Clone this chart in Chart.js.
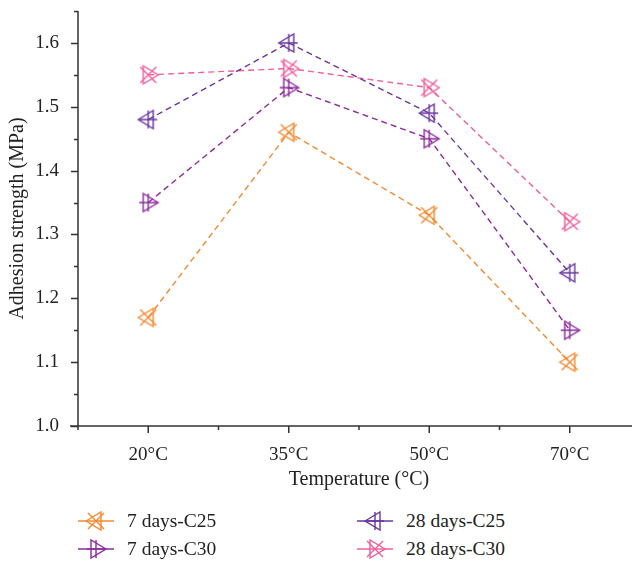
<!DOCTYPE html>
<html>
<head>
<meta charset="utf-8">
<script src="https://cdn.jsdelivr.net/npm/chart.js@4.4.1/dist/chart.umd.min.js"></script>
<style>
  body { margin: 0; background: #fff; overflow: hidden; width: 632px; height: 563px; }
  #wrap { position: relative; width: 640px; height: 495px; }
  #legend { position: absolute; left: 0; top: 508px; width: 632px; height: 55px;
            font-family: "Liberation Serif", "DejaVu Serif", serif; font-size: 19.5px; color: #222; }
  .item { position: absolute; height: 26px; display: flex; align-items: center; }
  .item canvas { margin-right: 9px; }
</style>
</head>
<body>
<div id="wrap"><canvas id="myChart" width="640" height="495"></canvas></div>
<div id="legend"></div>
<script>
// data
const labels = ['20°C', '35°C', '50°C', '70°C'];
const c25_7d = [1.17, 1.46, 1.33, 1.10];
const c30_7d = [1.35, 1.53, 1.45, 1.15];
const c25_28d = [1.48, 1.60, 1.49, 1.24];
const c30_28d = [1.55, 1.56, 1.53, 1.32];
const seriesNames = ['7 days-C25', '7 days-C30', '28 days-C25', '28 days-C30'];
const yTickLabels = ['1.0', '1.1', '1.2', '1.3', '1.4', '1.5', '1.6'];

const colors = ['#f5892f', '#8c2c9c', '#6a369f', '#ef5f9c'];
const fontFam = '"Liberation Serif", "DejaVu Serif", serif';

// marker = cross (plus or x) with a triangle pointing left or right
function drawMarker(g, cx, cy, color, crossType, dir) {
    g.strokeStyle = color;
    g.lineWidth = 1.4;
    g.beginPath();
    if (crossType === 'x') {
        g.moveTo(cx - 8, cy - 8); g.lineTo(cx + 8, cy + 8);
        g.moveTo(cx + 8, cy - 8); g.lineTo(cx - 8, cy + 8);
    } else {
        g.moveTo(cx - 9, cy); g.lineTo(cx + 9, cy);
        g.moveTo(cx, cy - 9); g.lineTo(cx, cy + 9);
    }
    g.stroke();
    g.beginPath();
    if (dir === 'left') {
        g.moveTo(cx - 10, cy); g.lineTo(cx + 5, cy - 9); g.lineTo(cx + 5, cy + 9);
    } else {
        g.moveTo(cx + 10, cy); g.lineTo(cx - 5, cy - 9); g.lineTo(cx - 5, cy + 9);
    }
    g.closePath();
    g.stroke();
}

const markerDefs = [['x', 'left'], ['plus', 'right'], ['plus', 'left'], ['x', 'right']];

function makeMarker(i) {
    const c = document.createElement('canvas');
    c.width = 26; c.height = 26;
    drawMarker(c.getContext('2d'), 13, 13, colors[i], markerDefs[i][0], markerDefs[i][1]);
    return c;
}

const allData = [c25_7d, c30_7d, c25_28d, c30_28d];
const datasets = allData.map(function (d, i) {
    return {
        label: seriesNames[i],
        data: d,
        borderColor: colors[i],
        backgroundColor: colors[i],
        borderWidth: 1.4,
        borderDash: [6, 4],
        pointStyle: makeMarker(i),
        pointRadius: 10,
        fill: false,
        tension: 0
    };
});

// axes + tick marks drawn by hand so major/minor lengths differ
const axisTicks = {
    id: 'axisTicks',
    afterDraw(chart) {
        const g = chart.ctx;
        const xs = chart.scales.x, ys = chart.scales.y;
        const left = chart.chartArea.left, bottom = chart.chartArea.bottom;
        g.save();
        g.strokeStyle = '#333';
        g.lineWidth = 1.5;
        g.beginPath();
        g.moveTo(left, ys.getPixelForValue(1.65)); g.lineTo(left, bottom + 4);
        g.moveTo(left - 8, bottom); g.lineTo(chart.width, bottom);
        for (let k = 0; k <= 13; k++) {
            const v = 1.0 + k * 0.05;
            const py = Math.round(ys.getPixelForValue(v)) + 0.5;
            const len = (k % 2 === 0) ? 7 : 4;
            g.moveTo(left - len, py); g.lineTo(left, py);
        }
        const step = xs.getPixelForValue(1) - xs.getPixelForValue(0);
        for (let i = 0; i < labels.length; i++) {
            const px = xs.getPixelForValue(i);
            g.moveTo(px, bottom); g.lineTo(px, bottom + 7);
            g.moveTo(px + step / 2, bottom); g.lineTo(px + step / 2, bottom + 4);
        }
        g.stroke();
        g.restore();
    }
};

const ctx = document.getElementById('myChart').getContext('2d');
const myChart = new Chart(ctx, {
    type: 'line',
    data: { labels: labels, datasets: datasets },
    options: {
        responsive: false,
        animation: false,
        layout: { autoPadding: false, padding: { top: 11, right: 0, left: 0, bottom: 0 } },
        plugins: { legend: { display: false }, tooltip: { enabled: false } },
        scales: {
            x: {
                offset: true,
                grid: { display: false },
                border: { display: false },
                ticks: { color: '#222', font: { family: fontFam, size: 19 }, padding: 10 },
                title: { display: true, text: 'Temperature (°C)', color: '#222',
                         font: { family: fontFam, size: 20 }, padding: { top: 2, bottom: 3 } },
                afterFit(s) { s.height = 69; s.paddingLeft = 0; s.paddingRight = 0; }
            },
            y: {
                min: 1.0,
                max: 1.65,
                grid: { display: false },
                border: { display: false },
                ticks: {
                    stepSize: 0.05,
                    color: '#222',
                    font: { family: fontFam, size: 19 },
                    padding: 11,
                    callback: function (v) {
                        const k = Math.round((v - 1.0) / 0.05);
                        return k % 2 === 0 ? yTickLabels[k / 2] : '';
                    }
                },
                title: { display: true, text: 'Adhesion strength (MPa)', color: '#222',
                         font: { family: fontFam, size: 20 }, padding: { top: 6, bottom: 0 } },
                afterFit(s) { s.width = 78; s.paddingTop = 0; s.paddingBottom = 0; }
            }
        }
    },
    plugins: [axisTicks]
});

// legend in two columns
const legendPos = [[78, 0], [78, 28], [357, 0], [357, 28]];
const legend = document.getElementById('legend');
seriesNames.forEach(function (name, i) {
    const div = document.createElement('div');
    div.className = 'item';
    div.style.left = legendPos[i][0] + 'px';
    div.style.top = legendPos[i][1] + 'px';
    const c = document.createElement('canvas');
    c.width = 40; c.height = 26;
    const g = c.getContext('2d');
    g.strokeStyle = colors[i]; g.lineWidth = 1.4;
    g.beginPath(); g.moveTo(0, 13); g.lineTo(36, 13); g.stroke();
    drawMarker(g, 18, 13, colors[i], markerDefs[i][0], markerDefs[i][1]);
    div.appendChild(c);
    const t = document.createElement('span');
    t.textContent = name;
    div.appendChild(t);
    legend.appendChild(div);
});
</script>
</body>
</html>
